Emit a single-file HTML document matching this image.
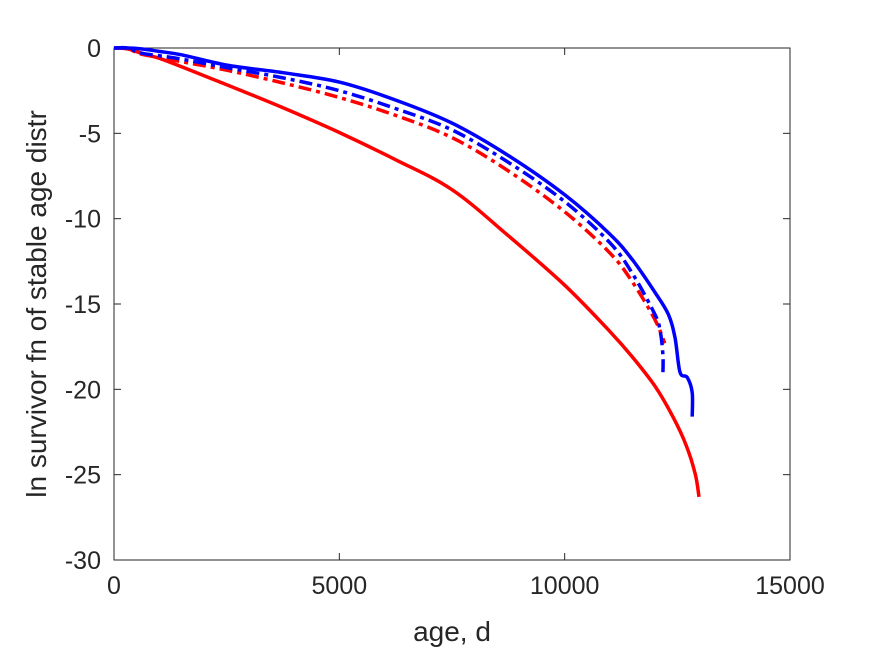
<!DOCTYPE html>
<html><head><meta charset="utf-8"><style>
body{margin:0;background:#fff;}
svg text{font-family:"Liberation Sans",sans-serif;fill:#262626;}
</style></head><body>
<svg width="875" height="656">
<rect width="875" height="656" fill="#fff"/>
<g id="plot"></g>
</svg>
<script>
const xTicks=[0,5000,10000,15000];
const yTicks=[0,-5,-10,-15,-20,-25,-30];
const ages=[0,300,600,1000,1500,2500,3750,5000,6250,7500,8750,10000,11000,11500,12000];
const redSolid=[0,-0.05,-0.3,-0.6,-1.1,-2.15,-3.5,-4.95,-6.55,-8.3,-11.0,-13.9,-16.6,-18.1,-19.8];
const redSolidTailX=[12400,12700,12900,12980];
const redSolidTailY=[-21.6,-23.3,-25.0,-26.3];
const blueSolid=[0,0,-0.05,-0.2,-0.4,-1.0,-1.45,-2.0,-3.05,-4.4,-6.3,-8.6,-10.9,-12.4,-14.3];
const blueSolidTailX=[12300,12450,12560,12720,12830,12830];
const blueSolidTailY=[-15.6,-17.0,-19.0,-19.3,-20.2,-21.6];
const blueDash=[0,0,-0.3,-0.45,-0.65,-1.15,-1.75,-2.5,-3.55,-4.8,-6.7,-9.0,-11.4,-13.2,-15.6];
const blueDashTailX=[12120,12180,12180];
const blueDashTailY=[-16.6,-18.0,-19.1];
const redDash=[0,-0.05,-0.35,-0.55,-0.8,-1.3,-2.05,-2.9,-3.95,-5.25,-7.2,-9.6,-12.0,-13.7,-15.9];
const redDashTailX=[12220];
const redDashTailY=[-17.3];

const L=114,R=790,T=48,B=560;
const sx=v=>L+(v-0)/15000*(R-L);
const sy=v=>T+(0-v)/30*(B-T);
const g=document.getElementById('plot');
const NS='http://www.w3.org/2000/svg';
function mk(tag,attrs){const e=document.createElementNS(NS,tag);for(const k in attrs)e.setAttribute(k,attrs[k]);g.appendChild(e);return e;}

const frame=mk('rect',{x:L,y:T,width:R-L,height:B-T,fill:'none',stroke:'#262626','stroke-width':1});



xTicks.forEach(t=>{
  const x=sx(t);
  const l1=mk('line',{x1:x,x2:x,y1:B,y2:B-7,stroke:'#262626'});
  
  
  const l2=mk('line',{x1:x,x2:x,y1:T,y2:T+7,stroke:'#262626'});
  
  
  const tx=mk('text',{x:x,y:B+34,'text-anchor':'middle','font-size':25});
  tx.textContent=t;
  
  
});
yTicks.forEach(t=>{
  const y=sy(t);
  const l1=mk('line',{x1:L,x2:L+7,y1:y,y2:y,stroke:'#262626'});
  
  
  const l2=mk('line',{x1:R,x2:R-7,y1:y,y2:y,stroke:'#262626'});
  
  
  const tx=mk('text',{x:L-13,y:y+9,'text-anchor':'end','font-size':25});
  tx.textContent=t;
  
  
});

function smoothPath(pts){
  let d='M'+pts[0][0].toFixed(1)+','+pts[0][1].toFixed(1);
  for(let i=0;i<pts.length-1;i++){
    const p0=pts[Math.max(0,i-1)],p1=pts[i],p2=pts[i+1],p3=pts[Math.min(pts.length-1,i+2)];
    const c1=[p1[0]+(p2[0]-p0[0])/6,p1[1]+(p2[1]-p0[1])/6];
    const c2=[p2[0]-(p3[0]-p1[0])/6,p2[1]-(p3[1]-p1[1])/6];
    d+=' C'+c1[0].toFixed(1)+','+c1[1].toFixed(1)+' '+c2[0].toFixed(1)+','+c2[1].toFixed(1)+' '+p2[0].toFixed(1)+','+p2[1].toFixed(1);
  }
  return d;
}
function series(xs,ys,color,dash,name){
  const pts=xs.map((x,i)=>[sx(x),sy(ys[i])]);
  const p=mk('path',{d:smoothPath(pts),fill:'none',stroke:color,'stroke-width':3.5,'stroke-linejoin':'round'});
  if(dash)p.setAttribute('stroke-dasharray',dash);
  
  
}
series(ages.concat(redSolidTailX),redSolid.concat(redSolidTailY),'#ff0000',null,'red-solid-line');
series(ages.concat(redDashTailX),redDash.concat(redDashTailY),'#ff0000','13,5,4,5','red-dashdot-line');
series(ages.concat(blueDashTailX),blueDash.concat(blueDashTailY),'#0000ff','13,5,4,5','blue-dashdot-line');
series(ages.concat(blueSolidTailX),blueSolid.concat(blueSolidTailY),'#0000ff',null,'blue-solid-line');

const xl=mk('text',{x:(L+R)/2,y:641,'text-anchor':'middle','font-size':28});
xl.textContent='age, d';


const yl=mk('text',{x:0,y:0,'text-anchor':'middle','font-size':28,transform:'translate(46,'+((T+B)/2)+') rotate(-90)'});
yl.textContent='ln survivor fn of stable age distr';


</script>
</body></html>
